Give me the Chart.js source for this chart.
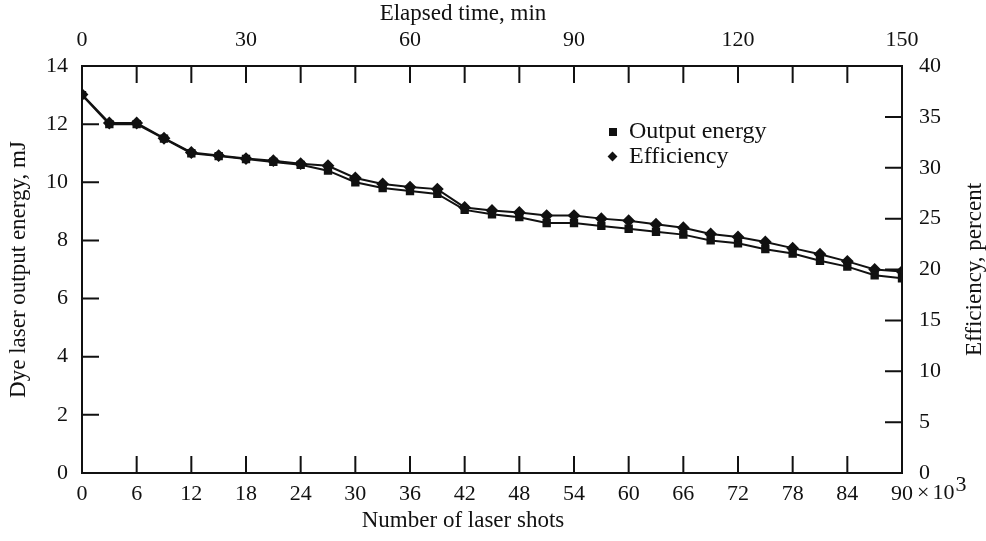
<!DOCTYPE html>
<html>
<head>
<meta charset="utf-8">
<script src="https://cdn.jsdelivr.net/npm/chart.js@4"></script>
<style>
    html, body { margin: 0; padding: 0; background: #fff; }
    #wrap { position: relative; width: 986px; height: 541px; }
    #legend {
        position: absolute; left: 604px; top: 118px;
        font-family: "Liberation Serif", serif; font-size: 24px; color: #111;
        line-height: 25px;
    }
    #legend .mk { display: inline-block; width: 25px; }
    #legend .sq { display: inline-block; width: 8px; height: 8px; margin-left: 5px; background: #111; vertical-align: 2px; }
    #legend .dm { display: inline-block; width: 7px; height: 7px; margin-left: 5px; background: #111; transform: rotate(45deg); vertical-align: 3px; }
</style>
</head>
<body>
<div id="wrap">
    <canvas id="laserChart" width="986" height="541"></canvas>
    <div id="legend">
        <div><span class="mk"><span class="sq"></span></span>Output energy</div>
        <div><span class="mk"><span class="dm"></span></span>Efficiency</div>
    </div>
</div>
<script>
/*==============================================================
    DATA
==============================================================*/
const shots = [0, 3, 6, 9, 12, 15, 18, 21, 24, 27, 30, 33, 36, 39, 42, 45,
    48, 51, 54, 57, 60, 63, 66, 69, 72, 75, 78, 81, 84, 87, 90];
const outputEnergy = [13.0, 12.0, 12.0, 11.5, 11.0, 10.9, 10.8, 10.7, 10.6, 10.4,
    10.0, 9.8, 9.7, 9.6, 9.05, 8.9, 8.8, 8.6, 8.6, 8.5, 8.4, 8.3, 8.2, 8.0,
    7.9, 7.7, 7.55, 7.3, 7.1, 6.8, 6.7];
const efficiency = [37.2, 34.4, 34.4, 32.9, 31.5, 31.2, 30.9, 30.7, 30.4, 30.2,
    29.0, 28.4, 28.1, 27.9, 26.1, 25.8, 25.6, 25.3, 25.3, 25.0, 24.8, 24.45,
    24.1, 23.5, 23.2, 22.7, 22.1, 21.5, 20.8, 20.0, 19.8];
const shotTicks = [0, 6, 12, 18, 24, 30, 36, 42, 48, 54, 60, 66, 72, 78, 84, 90];
const timeLabels = [0, 30, 60, 90, 120, 150];

/*==============================================================
    HELPERS
==============================================================*/
const FONT = "'Liberation Serif', 'Times New Roman', serif";
const INK = "#111";
const TICK_PX = 22;
const TITLE_PX = 23;

function pts(ys) {
    return shots.map(function (x, i) { return { x: x, y: ys[i] }; });
}

function fixSize(prop, v) {
    return function (s) { s[prop] = v; };
}

// inward tick marks, the x10^3 suffix and the x / right titles
const extras = {
    id: "extras",
    afterDraw: function (chart) {
        const c = chart.ctx, a = chart.chartArea, L = 17;
        const sx = chart.scales.x, sx2 = chart.scales.x2;
        const sy = chart.scales.y, sy2 = chart.scales.y2;
        c.save();
        c.strokeStyle = INK;
        c.lineWidth = 2;
        c.beginPath();
        sx.ticks.forEach(function (t) {
            const p = sx.getPixelForValue(t.value);
            c.moveTo(p, a.bottom); c.lineTo(p, a.bottom - L);
        });
        sx2.ticks.forEach(function (t) {
            const p = sx2.getPixelForValue(t.value);
            c.moveTo(p, a.top); c.lineTo(p, a.top + L);
        });
        sy.ticks.forEach(function (t) {
            const p = sy.getPixelForValue(t.value);
            c.moveTo(a.left, p); c.lineTo(a.left + L, p);
        });
        sy2.ticks.forEach(function (t) {
            const p = sy2.getPixelForValue(t.value);
            c.moveTo(a.right, p); c.lineTo(a.right - L, p);
        });
        c.stroke();

        // "× 10³" after the last shot label
        c.fillStyle = INK;
        c.font = TICK_PX + "px " + FONT;
        c.textBaseline = "alphabetic";
        c.textAlign = "left";
        const last = shotTicks[shotTicks.length - 1];
        let px = sx.getPixelForValue(last) + c.measureText(String(last)).width / 2 + 4;
        const base = a.bottom + 26;
        c.fillText("×", px, base);
        px += c.measureText("×").width + 3;
        c.fillText("10", px, base);
        px += c.measureText("10").width + 1;
        c.fillText("3", px, base - 8);

        // axis titles
        c.font = TITLE_PX + "px " + FONT;
        c.textAlign = "center";
        c.textBaseline = "middle";
        c.fillText("Number of laser shots", 463, 521);
        c.fillText("Elapsed time, min", 463, 14);
        c.translate(975, (a.top + a.bottom) / 2);
        c.rotate(-Math.PI / 2);
        c.fillText("Efficiency, percent", 0, 0);
        c.restore();
    }
};

/*==============================================================
    CHART
==============================================================*/
const ticksFont = { family: FONT, size: TICK_PX };
const titleFont = { family: FONT, size: TITLE_PX };
const border = { display: true, color: INK, width: 2 };

new Chart(document.getElementById("laserChart"), {
    type: "line",
    data: {
        datasets: [{
            label: "Output energy",
            data: pts(outputEnergy),
            yAxisID: "y",
            borderColor: INK,
            backgroundColor: INK,
            borderWidth: 2,
            pointStyle: "rect",
            pointRadius: 4.5,
            tension: 0
        }, {
            label: "Efficiency",
            data: pts(efficiency),
            yAxisID: "y2",
            borderColor: INK,
            backgroundColor: INK,
            borderWidth: 2,
            pointStyle: "rectRot",
            pointRadius: 5,
            tension: 0
        }]
    },
    options: {
        responsive: false,
        animation: false,
        layout: { padding: 0 },
        plugins: { legend: { display: false }, tooltip: { enabled: false } },
        scales: {
            x: {
                type: "linear", position: "bottom", min: 0, max: 90,
                afterBuildTicks: function (s) {
                    s.ticks = shotTicks.map(function (v) { return { value: v }; });
                },
                afterFit: fixSize("height", 68),
                grid: { display: false, drawTicks: false },
                border: border,
                ticks: {
                    color: INK, font: ticksFont, padding: 8, maxRotation: 0,
                    autoSkip: false
                }
            },
            x2: {
                type: "linear", position: "top", min: 0, max: 150,
                afterBuildTicks: function (s) {
                    const t = [];
                    for (let v = 0; v <= 150; v += 10) t.push({ value: v });
                    s.ticks = t;
                },
                afterFit: fixSize("height", 66),
                grid: { display: false, drawTicks: false },
                border: border,
                ticks: {
                    color: INK, font: ticksFont, padding: 13, maxRotation: 0,
                    autoSkip: false,
                    callback: function (v) { return timeLabels.indexOf(v) >= 0 ? v : ""; }
                }
            },
            y: {
                type: "linear", position: "left", min: 0, max: 14,
                ticks: { stepSize: 2, color: INK, font: ticksFont, padding: 14 },
                afterFit: fixSize("width", 82),
                grid: { display: false, drawTicks: false },
                border: border,
                title: {
                    display: true, text: "Dye laser output energy, mJ",
                    color: INK, font: titleFont, padding: { top: 5, bottom: 0 }
                }
            },
            y2: {
                type: "linear", position: "right", min: 0, max: 40,
                ticks: { stepSize: 5, color: INK, font: ticksFont, padding: 17 },
                afterFit: fixSize("width", 84),
                grid: { display: false, drawTicks: false },
                border: border
            }
        }
    },
    plugins: [extras]
});
</script>
</body>
</html>
